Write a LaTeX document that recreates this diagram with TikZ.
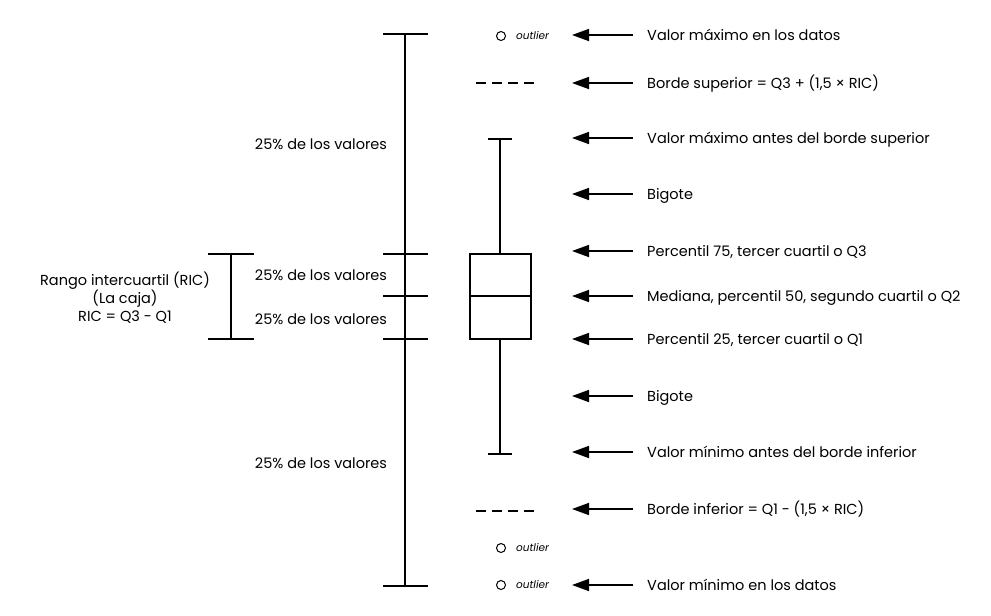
\documentclass[tikz,border=0pt]{standalone}
\usepackage{fontspec}
\setmainfont{Poppins}
\usepackage{tikz}
\usetikzlibrary{arrows.meta}
\usetikzlibrary{positioning}
\tikzstyle{rule} = [draw, line width=1.6pt]
\tikzstyle{tick} = [draw, line width=1.6pt]
\tikzstyle{line} = [draw, line width=1.6pt, -{Triangle[length=17pt,width=12pt]}]
\tikzstyle{label} = [anchor=west, inner sep=0pt, text height=1.6ex, text depth=0.2ex,
  yshift=-1.5pt, font=\fontsize{14.5}{17}\selectfont]
\tikzstyle{share} = [inner sep=0pt, font=\fontsize{14.5}{17}\selectfont]
\tikzstyle{outlier} = [draw, circle, line width=1pt, minimum size=9pt, inner sep=0pt]
\tikzstyle{tag} = [anchor=west, inner sep=0pt, font=\fontsize{10.5}{12}\selectfont\itshape]
\tikzstyle{fence} = [draw, line width=1.6pt, dash pattern=on 10pt off 6pt]

\begin{document}
\begin{tikzpicture}[x=1pt, y=-1pt]
  \useasboundingbox (0,0) rectangle (991,616);

  % Scale of the data
  \coordinate (top) at (405,34);
  \coordinate (bottom) at (405,586);
  \path [rule] (top) -- (bottom);
  \path [tick] (383,34) -- (428,34);
  \path [tick] (383,254) -- (428,254);
  \path [tick] (383,296) -- (428,296);
  \path [tick] (383,339) -- (428,339);
  \path [tick] (383,586) -- (428,586);
  \node [share] (q4) at (321,144) {25\% de los valores};
  \node [share] (q3) at (321,275) {25\% de los valores};
  \node [share] (q2) at (321,319) {25\% de los valores};
  \node [share] (q1) at (321,463) {25\% de los valores};

  % Interquartile range
  \path [rule] (231,254) -- (231,339);
  \path [tick] (208,254) -- (254,254);
  \path [tick] (208,339) -- (254,339);
  \node [share, align=center, font=\fontsize{14.5}{18}\selectfont] (ric) at (125,298)
    {Rango intercuartil (RIC)\\(La caja)\\RIC = Q3 - Q1};

  % The box plot
  \path [rule] (500,139) -- (500,254);
  \path [rule] (500,339) -- (500,454);
  \path [tick] (488,139) -- (512,139);
  \path [tick] (488,454) -- (512,454);
  \node [draw, line width=1.6pt, minimum width=61pt, minimum height=85pt,
         inner sep=0pt] (box) at (500.5,296.5) {};
  \path [tick] (box.west |- 0,296) -- (box.east |- 0,296);
  \path [fence] (476,83) -- (534,83);
  \path [fence] (476,511) -- (534,511);
  \node [outlier] (o1) at (501,36) {};
  \node [outlier] (o2) at (501,548) {};
  \node [outlier] (o3) at (501,585) {};
  \node [tag, right=10pt of o1] {outlier};
  \node [tag, right=10pt of o2] {outlier};
  \node [tag, right=10pt of o3] {outlier};

  % Place labels
  \node [label] (maxd) at (647,35) {Valor máximo en los datos};
  \node [label] (sup) at (647,83) {Borde superior = Q3 + (1,5 × RIC)};
  \node [label] (maxb) at (647,138) {Valor máximo antes del borde superior};
  \node [label] (big1) at (647,194) {Bigote};
  \node [label] (p75) at (647,251) {Percentil 75, tercer cuartil o Q3};
  \node [label] (p50) at (647,296) {Mediana, percentil 50, segundo cuartil o Q2};
  \node [label] (p25) at (647,339) {Percentil 25, tercer cuartil o Q1};
  \node [label] (big2) at (647,396) {Bigote};
  \node [label] (minb) at (647,452) {Valor mínimo antes del borde inferior};
  \node [label] (inf) at (647,509) {Borde inferior = Q1 - (1,5 × RIC)};
  \node [label] (mind) at (647,585) {Valor mínimo en los datos};

  % Draw arrows
  \path [line] ([xshift=-14pt,yshift=1.5pt]maxd.west) -- ++(-61,0);
  \path [line] ([xshift=-14pt,yshift=1.5pt]sup.west) -- ++(-61,0);
  \path [line] ([xshift=-14pt,yshift=1.5pt]maxb.west) -- ++(-61,0);
  \path [line] ([xshift=-14pt,yshift=1.5pt]big1.west) -- ++(-61,0);
  \path [line] ([xshift=-14pt,yshift=1.5pt]p75.west) -- ++(-61,0);
  \path [line] ([xshift=-14pt,yshift=1.5pt]p50.west) -- ++(-61,0);
  \path [line] ([xshift=-14pt,yshift=1.5pt]p25.west) -- ++(-61,0);
  \path [line] ([xshift=-14pt,yshift=1.5pt]big2.west) -- ++(-61,0);
  \path [line] ([xshift=-14pt,yshift=1.5pt]minb.west) -- ++(-61,0);
  \path [line] ([xshift=-14pt,yshift=1.5pt]inf.west) -- ++(-61,0);
  \path [line] ([xshift=-14pt,yshift=1.5pt]mind.west) -- ++(-61,0);
\end{tikzpicture}
\end{document}
